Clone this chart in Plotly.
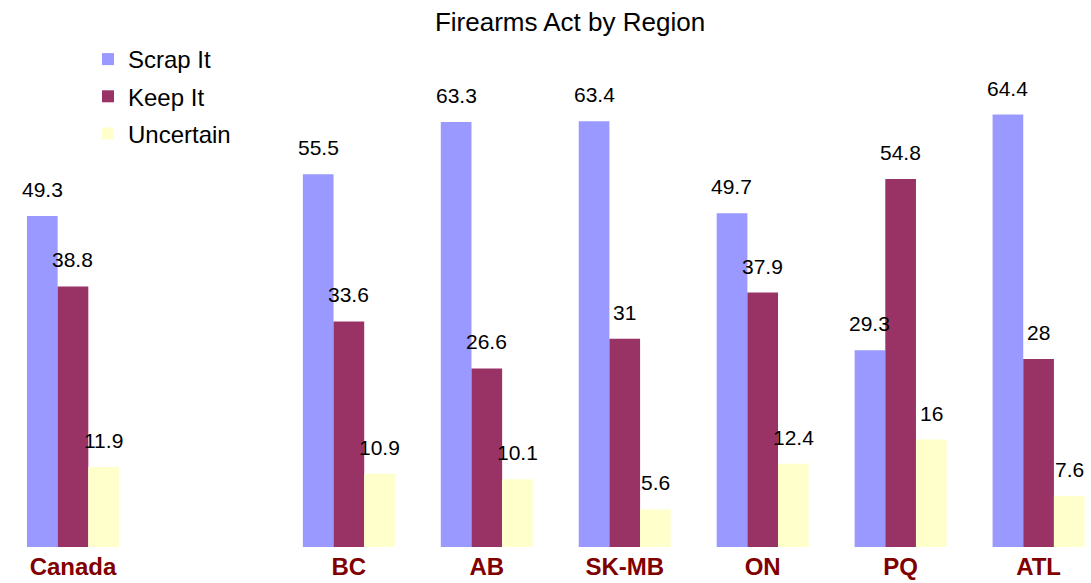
import plotly.graph_objects as go

categories = ["Canada", " ", "BC", "AB", "SK-MB", "ON", "PQ", "ATL"]
scrap_it = [49.3, None, 55.5, 63.3, 63.4, 49.7, 29.3, 64.4]
keep_it = [38.8, None, 33.6, 26.6, 31, 37.9, 54.8, 28]
uncertain = [11.9, None, 10.9, 10.1, 5.6, 12.4, 16, 7.6]
series_names = ["Scrap It", "Keep It", "Uncertain"]
series_values = [scrap_it, keep_it, uncertain]
colors = ["#9999FF", "#993366", "#FFFFCC"]

W, H = 1091, 583
FONT = "Liberation Sans, Arial, sans-serif"

fig = go.Figure()
for name, vals, col in zip(series_names, series_values, colors):
    fig.add_trace(go.Bar(
        x=categories, y=vals, name=name, marker=dict(color=col, line=dict(width=0)),
        legendgroup=name, hoverinfo="skip",
    ))

bar_px = 30.7
annotations = []
for s, vals in enumerate(series_values):
    for c, v in zip(categories, vals):
        if v is None:
            continue
        annotations.append(dict(
            x=c, y=v, xref="x", yref="y", text=f"{v:g}", showarrow=False,
            xanchor="center", yanchor="bottom", xshift=(s - 1) * bar_px, yshift=13,
            font=dict(family=FONT, size=21, color="#000000"),
        ))

fig.update_layout(
    width=W, height=H,
    margin=dict(l=4, r=0, t=77, b=36, autoexpand=False),
    paper_bgcolor="white", plot_bgcolor="white",
    barmode="group", bargap=0.333, bargroupgap=0,
    title=dict(text="Firearms Act by Region", x=570 / W, xanchor="center", xref="container",
               y=1 - 22 / H, yanchor="middle", yref="container",
               font=dict(family=FONT, size=26, color="#000000")),
    font=dict(family=FONT),
    xaxis=dict(type="category", categoryorder="array", categoryarray=categories,
               range=[-0.5, 7.38], showgrid=False, showline=False, zeroline=False,
               ticks="", ticklabelstandoff=3,
               tickfont=dict(family=FONT, size=24, color="#800000", weight="bold")),
    yaxis=dict(range=[0, 70], visible=False),
    legend=dict(x=88 / W, xref="container", xanchor="left", y=1 - 37 / H, yref="container",
                yanchor="top", font=dict(family=FONT, size=24, color="#000000"),
                tracegroupgap=3, bgcolor="rgba(0,0,0,0)"),
    annotations=annotations,
    showlegend=True,
)

fig.write_html("out.html", config={"displayModeBar": False},
               post_script="document.body.style.margin='0px';")
